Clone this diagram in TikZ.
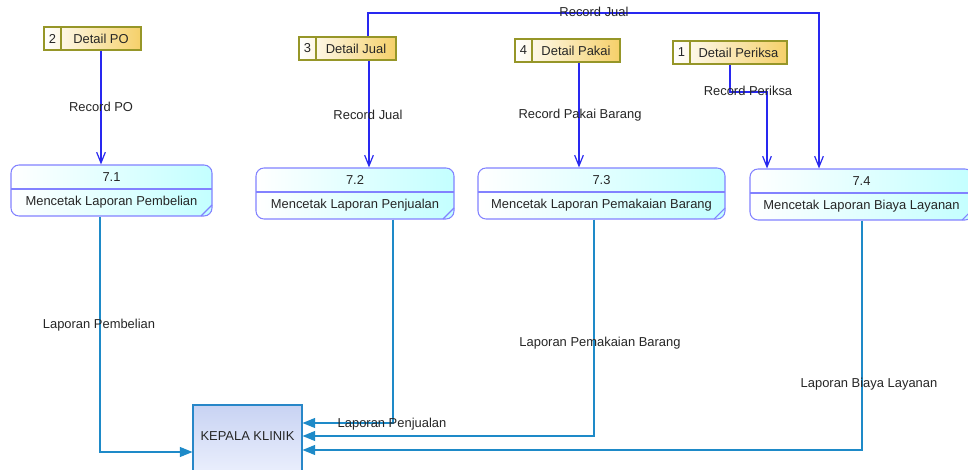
\documentclass[tikz,border=0pt]{standalone}
\usepackage{fontspec}
\setmainfont{Liberation Sans}
\usetikzlibrary{arrows.meta,fit,calc}

\definecolor{procedge}{RGB}{130,130,255}
\definecolor{procfillR}{RGB}{195,255,255}
\definecolor{storeedge}{RGB}{150,150,40}
\definecolor{storefillR}{RGB}{245,208,105}
\definecolor{recblue}{RGB}{40,40,240}
\definecolor{repblue}{RGB}{30,138,200}
\definecolor{entfillA}{RGB}{200,211,243}
\definecolor{entfillB}{RGB}{236,240,253}
\definecolor{entedge}{RGB}{40,135,200}

\tikzset{
  txt/.style={font=\fontsize{9.7}{11}\selectfont, inner sep=0pt, text=black!85},
  procshape/.style={draw=procedge, line width=0.8pt, rounded corners=6pt,
    left color=white, right color=procfillR, inner sep=0pt},
  procline/.style={draw=procedge, line width=0.8pt},
  storeshape/.style={draw=storeedge, line width=0.8pt,
    left color=white, right color=storefillR, inner sep=0pt},
  entshape/.style={draw=entedge, line width=0.8pt,
    top color=entfillA, bottom color=entfillB, inner sep=0pt},
  rec/.style={draw=recblue, line width=0.9pt,
    -{Straight Barb[length=8pt,width=6.5pt,line width=0.9pt]}},
  rep/.style={draw=repblue, line width=0.9pt,
    -{Triangle[length=9.5pt,width=7.5pt]}},
}

% process box: name, x1, y1, x2, y2, number, title
\newcommand\procbox[7]{%
  \node[procshape, fit={(#2,#3) (#4,#5)}] (#1) {};
  \draw[procline] (#2,#3+24) -- (#4,#3+24);
  \draw[procline] (#4-11,#5) -- (#4,#5-11);
  \node[txt] (#1-id) at ({(#2+#4)/2},#3+12) {#6};
  \node[txt] (#1-name) at ({(#2+#4)/2},{(#3+24+#5)/2}) {#7};
}
% data store: name, x1, y1, x2, y2, number, title
\newcommand\storebox[7]{%
  \node[storeshape, fit={(#2,#3) (#4,#5)}] (#1) {};
  \draw[draw=storeedge, line width=0.8pt] (#2+17,#3) -- (#2+17,#5);
  \node[txt] (#1-no) at (#2+8.5,{(#3+#5)/2}) {#6};
  \node[txt] (#1-name) at ({(#2+17+#4)/2},{(#3+#5)/2}) {#7};
}

\begin{document}
\begin{tikzpicture}[x=0.75pt,y=-0.75pt]
\useasboundingbox[fill=white] (0,0) rectangle (968,470);

% data stores
\storebox{dpo}{44}{27}{141}{50}{2}{Detail PO}
\storebox{djual}{299}{37}{396}{60}{3}{Detail Jual}
\storebox{dpakai}{515}{39}{620}{62}{4}{Detail Pakai}
\storebox{dperiksa}{673}{41}{787}{64}{1}{Detail Periksa}

% processes
\procbox{p71}{11}{165}{212}{216}{7.1}{Mencetak Laporan Pembelian}
\procbox{p72}{256}{168}{454}{219}{7.2}{Mencetak Laporan Penjualan}
\procbox{p73}{478}{168}{725}{219}{7.3}{Mencetak Laporan Pemakaian Barang}
\procbox{p74}{750}{169}{973}{220}{7.4}{Mencetak Laporan Biaya Layanan}

% external entity
\node[entshape, fit={(193,405) (302,476)}] (kk) {};
\node[txt] (kk-name) at (247.5,436) {KEPALA KLINIK};

% bend points
\coordinate (jtopL) at (368,13);
\coordinate (jtopR) at (819,13);
\coordinate (perA) at (730,92);
\coordinate (perB) at (767,92);

% record flows into the processes
\draw[rec] (dpo.south -| 101,0) -- (p71.north -| 101,0);
\draw[rec] (djual.south -| 369,0) -- (p72.north -| 369,0);
\draw[rec] (djual.north -| jtopL) -- (jtopL) -- (jtopR) -- (p74.north -| jtopR);
\draw[rec] (dpakai.south -| 579,0) -- (p73.north -| 579,0);
\draw[rec] (dperiksa.south -| perA) -- (perA) -- (perB) -- (p74.north -| perB);

% report flows to the clinic head
\draw[rep] (p71.south -| 100,0) |- (kk.west |- 0,452);
\draw[rep] (p72.south -| 393,0) |- (kk.east |- 0,423);
\draw[rep] (p73.south -| 594,0) |- (kk.east |- 0,436);
\draw[rep] (p74.south -| 862,0) |- (kk.east |- 0,450);

% flow labels
\node[txt] (lpo) at (101,107) {Record PO};
\node[txt] (ljual) at (368,115) {Record Jual};
\node[txt] (ljual2) at (594,12) {Record Jual};
\node[txt] (lpakai) at (580,115) {Record Pakai Barang};
\node[txt] (lperiksa) at (748,91) {Record Periksa};
\node[txt] (lbeli) at (99,325) {Laporan Pembelian};
\node[txt] (lpenj) at (392,424) {Laporan Penjualan};
\node[txt] (lpem) at (600,343) {Laporan Pemakaian Barang};
\node[txt] (lbiaya) at (869,384) {Laporan Biaya Layanan};
\end{tikzpicture}
\end{document}
